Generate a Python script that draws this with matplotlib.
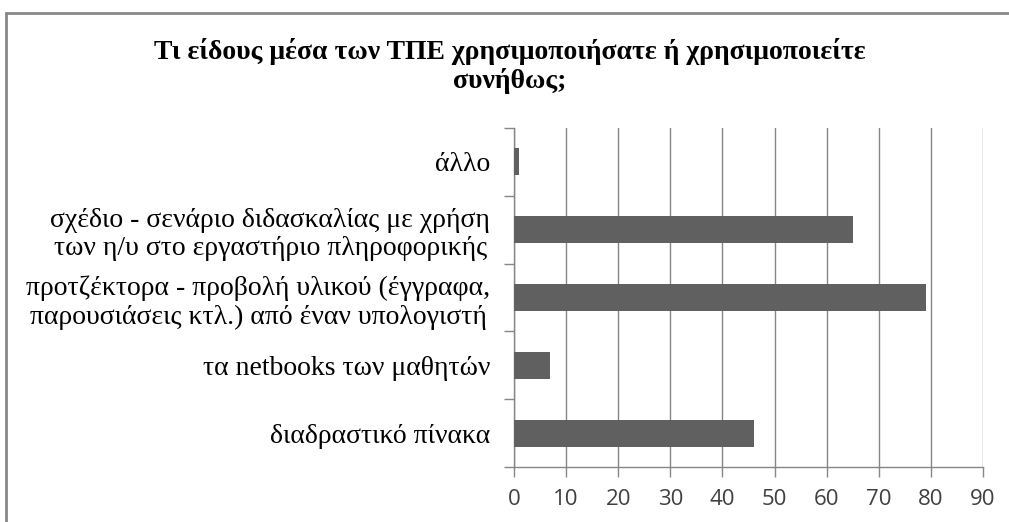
import matplotlib
matplotlib.use("Agg")
import matplotlib.pyplot as plt
from matplotlib.patches import Rectangle
import numpy as np

categories = [
    "διαδραστικό πίνακα",
    "τα netbooks των μαθητών",
    "προτζέκτορα - προβολή υλικού (έγγραφα,\nπαρουσιάσεις κτλ.) από έναν υπολογιστή",
    "σχέδιο - σενάριο διδασκαλίας με χρήση\nτων η/υ στο εργαστήριο πληροφορικής",
    "άλλο",
]
values = [46, 7, 79, 65, 1]
x_ticks = list(range(0, 100, 10))
title = "Τι είδους μέσα των ΤΠΕ χρησιμοποιήσατε ή χρησιμοποιείτε\nσυνήθως;"

plt.rcParams["font.family"] = ["Liberation Serif", "DejaVu Serif"]

fig = plt.figure(figsize=(10.09, 5.22), dpi=100)
ax = fig.add_axes([0.5094, 0.1054, 0.4648, 0.6494])

y = np.arange(len(categories))
ax.barh(y, values, height=0.4, color="#606060", zorder=3)

ax.set_xlim(0, 90)
ax.set_ylim(-0.5, len(categories) - 0.5)
ax.set_xticks(x_ticks)
ax.set_xticklabels([str(t) for t in x_ticks], family=["Open Sans"],
                   fontsize=16, color="#404040")
ax.set_yticks(y)
ax.set_yticklabels(categories, family=["Liberation Serif"], fontsize=20,
                   multialignment="center", linespacing=1.2)
ax.set_yticks(np.arange(-0.5, len(categories), 1), minor=True)

ax.tick_params(axis="y", which="major", length=0, pad=17)
ax.tick_params(axis="y", which="minor", length=7, color="#868686", width=1)
ax.tick_params(axis="x", which="major", length=7, color="#868686", width=1, pad=9)

ax.grid(axis="x", color="#868686", linewidth=1, zorder=0)
for s in ["top", "right"]:
    ax.spines[s].set_visible(False)
for s in ["left", "bottom"]:
    ax.spines[s].set_color("#868686")
    ax.spines[s].set_linewidth(1)

fig.text(0.505, 0.874, title, ha="center", va="center", family=["Liberation Serif"],
         fontweight="bold", fontsize=20, linespacing=1.17)

fig.patches.append(Rectangle((6 / 1009, -0.1), 1.2, 1 - 13 / 522 + 0.1,
                             transform=fig.transFigure, fill=False,
                             edgecolor="#888888", linewidth=2))

fig.savefig("out.png", dpi=100)
